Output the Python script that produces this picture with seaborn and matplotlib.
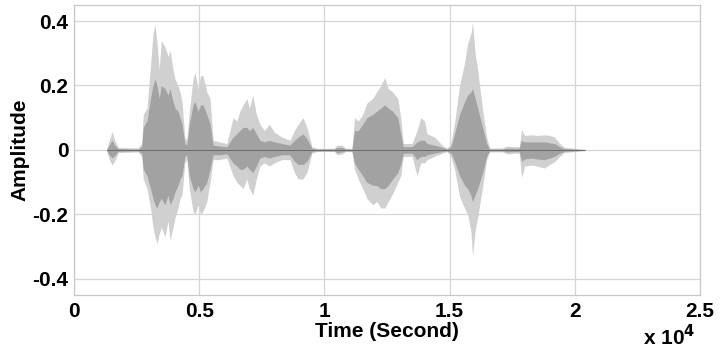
import numpy as np
import pandas as pd
import matplotlib
matplotlib.use("Agg")
import matplotlib.pyplot as plt
import seaborn as sns

# envelope of the speech waveform (sample index, amplitude)
sample_idx = [1300, 1400, 1520, 1620, 1760, 2550, 2700, 2760, 2910, 3050,
              3150, 3230, 3310, 3400, 3480, 3630, 3750, 3830, 3950, 4030,
              4150, 4230, 4310, 4420, 4500, 4600, 4750, 4830, 4950, 5050,
              5150, 5300, 5430, 5550, 5800, 6100, 6350, 6500, 6620, 6750,
              6900, 7000, 7140, 7280, 7420, 7600, 7800, 8000, 8300, 8620,
              8800, 8950, 9140, 9300, 9500, 9700, 10400, 10500, 10700, 10850,
              11100, 11200, 11350, 11530, 11690, 11930, 12090, 12250, 12410, 12550,
              12730, 12930, 13050, 13150, 13500, 13700, 13850, 14000, 14100, 14400,
              14700, 14900, 15050, 15200, 15400, 15600, 15720, 15850, 15920, 16020,
              16120, 16320, 16480, 16600, 17100, 17300, 17600, 17780, 17880, 18000,
              18270, 18500, 18790, 19000, 19190, 19400, 19590, 20000, 20400]

outer_up = [0.003, 0.03, 0.057, 0.03, 0.008, 0.006, 0.02, 0.11, 0.13, 0.26,
            0.36, 0.39, 0.33, 0.25, 0.34, 0.32, 0.29, 0.31, 0.25, 0.22,
            0.20, 0.18, 0.15, 0.04, 0.03, 0.12, 0.22, 0.24, 0.19, 0.23,
            0.23, 0.18, 0.16, 0.03, 0.025, 0.02, 0.10, 0.09, 0.12, 0.14,
            0.16, 0.13, 0.17, 0.11, 0.08, 0.06, 0.08, 0.055, 0.04, 0.03,
            0.06, 0.08, 0.10, 0.07, 0.01, 0.005, 0.005, 0.015, 0.015, 0.005,
            0.005, 0.10, 0.09, 0.11, 0.145, 0.16, 0.18, 0.20, 0.225, 0.19,
            0.18, 0.16, 0.10, 0.02, 0.02, 0.06, 0.10, 0.09, 0.05, 0.04,
            0.015, 0.005, 0.02, 0.085, 0.20, 0.27, 0.33, 0.36, 0.395, 0.30,
            0.25, 0.125, 0.04, 0.006, 0.006, 0.012, 0.01, 0.01, 0.063, 0.045,
            0.047, 0.045, 0.047, 0.045, 0.04, 0.02, 0.008, 0.005, 0.002]

outer_lo = [-0.003, -0.03, -0.047, -0.035, -0.008, -0.006, -0.02, -0.09, -0.12, -0.18,
            -0.24, -0.27, -0.29, -0.26, -0.24, -0.27, -0.22, -0.28, -0.24, -0.21,
            -0.18, -0.15, -0.14, -0.04, -0.03, -0.12, -0.19, -0.20, -0.17, -0.20,
            -0.19, -0.16, -0.10, -0.03, -0.03, -0.025, -0.08, -0.10, -0.11, -0.12,
            -0.09, -0.12, -0.14, -0.09, -0.05, -0.04, -0.05, -0.04, -0.03, -0.03,
            -0.07, -0.09, -0.09, -0.07, -0.01, -0.005, -0.005, -0.015, -0.012, -0.005,
            -0.005, -0.06, -0.09, -0.12, -0.15, -0.17, -0.16, -0.18, -0.18, -0.16,
            -0.135, -0.10, -0.08, -0.02, -0.02, -0.08, -0.04, -0.04, -0.03, -0.02,
            -0.01, -0.005, -0.02, -0.06, -0.145, -0.18, -0.20, -0.25, -0.33, -0.25,
            -0.21, -0.115, -0.03, -0.006, -0.006, -0.012, -0.01, -0.01, -0.085, -0.05,
            -0.047, -0.05, -0.056, -0.045, -0.037, -0.02, -0.008, -0.005, -0.002]

inner_up = [0.002, 0.015, 0.03, 0.015, 0.004, 0.003, 0.01, 0.07, 0.09, 0.16,
            0.2, 0.22, 0.2, 0.16, 0.2, 0.19, 0.17, 0.19, 0.15, 0.13,
            0.12, 0.1, 0.08, 0.02, 0.015, 0.08, 0.14, 0.15, 0.12, 0.14,
            0.14, 0.11, 0.08, 0.015, 0.012, 0.01, 0.04, 0.05, 0.06, 0.07,
            0.07, 0.06, 0.07, 0.05, 0.03, 0.025, 0.03, 0.025, 0.02, 0.015,
            0.03, 0.04, 0.05, 0.035, 0.005, 0.003, 0.003, 0.008, 0.008, 0.003,
            0.003, 0.06, 0.06, 0.08, 0.1, 0.11, 0.12, 0.13, 0.14, 0.13,
            0.12, 0.1, 0.05, 0.01, 0.01, 0.025, 0.03, 0.03, 0.02, 0.015,
            0.008, 0.003, 0.01, 0.05, 0.11, 0.15, 0.17, 0.18, 0.19, 0.16,
            0.13, 0.07, 0.02, 0.003, 0.003, 0.006, 0.005, 0.005, 0.03, 0.025,
            0.025, 0.025, 0.025, 0.022, 0.02, 0.01, 0.004, 0.003, 0.001]

inner_lo = [-0.002, -0.015, -0.025, -0.018, -0.004, -0.003, -0.01, -0.06, -0.08, -0.12,
            -0.15, -0.17, -0.18, -0.16, -0.15, -0.17, -0.14, -0.17, -0.15, -0.13,
            -0.11, -0.09, -0.08, -0.02, -0.015, -0.08, -0.12, -0.13, -0.11, -0.13,
            -0.12, -0.1, -0.06, -0.015, -0.015, -0.012, -0.04, -0.05, -0.06, -0.06,
            -0.05, -0.06, -0.07, -0.05, -0.025, -0.02, -0.025, -0.02, -0.015, -0.015,
            -0.035, -0.045, -0.045, -0.035, -0.005, -0.003, -0.003, -0.008, -0.006, -0.003,
            -0.003, -0.04, -0.06, -0.08, -0.1, -0.11, -0.11, -0.12, -0.12, -0.11,
            -0.09, -0.07, -0.045, -0.01, -0.01, -0.03, -0.02, -0.02, -0.015, -0.01,
            -0.005, -0.003, -0.01, -0.035, -0.08, -0.11, -0.12, -0.14, -0.16, -0.14,
            -0.12, -0.07, -0.02, -0.003, -0.003, -0.006, -0.005, -0.005, -0.035, -0.028,
            -0.025, -0.028, -0.03, -0.025, -0.02, -0.01, -0.004, -0.003, -0.001]

x_ticks = [0, 5000, 10000, 15000, 20000, 25000]
x_ticklabels = ["0", "0.5", "1", "1.5", "2", "2.5"]
y_ticks = [-0.4, -0.2, 0, 0.2, 0.4]
y_ticklabels = ["-0.4", "-0.2", "0", "0.2", "0.4"]

df = pd.DataFrame({"sample": sample_idx, "up": outer_up, "lo": outer_lo,
                   "iup": inner_up, "ilo": inner_lo})

sns.set_theme(style="whitegrid")
plt.rcParams["font.family"] = ["Liberation Sans", "DejaVu Sans"]
plt.rcParams["text.color"] = "black"
plt.rcParams["axes.labelcolor"] = "black"
plt.rcParams["xtick.color"] = "black"
plt.rcParams["ytick.color"] = "black"

fig = plt.figure(figsize=(7.2, 3.52), dpi=100)
ax = fig.add_axes([0.103, 0.162, 0.869, 0.824])

ax.fill_between(df["sample"], df["lo"], df["up"], color="#d0d0d0", lw=0, zorder=2)
ax.fill_between(df["sample"], df["ilo"], df["iup"], color="#a2a2a2", lw=0, zorder=3)
# thin trace through the middle of the signal
sns.lineplot(x=[df["sample"].iloc[0], df["sample"].iloc[-1]], y=[0, 0],
             color="#6a6a6a", lw=0.7, ax=ax, zorder=4)

ax.set_xlim(0, 25000)
ax.set_ylim(-0.45, 0.45)
ax.set_xticks(x_ticks)
ax.set_xticklabels(x_ticklabels)
ax.set_yticks(y_ticks)
ax.set_yticklabels(y_ticklabels)
ax.tick_params(labelsize=15, length=0, labelcolor="black")
ax.tick_params(axis="x", pad=5)
ax.tick_params(axis="y", pad=4)
for lab in ax.get_xticklabels() + ax.get_yticklabels():
    lab.set_fontweight("bold")

ax.grid(True, color="#d6d6d6", lw=0.9)
for sp in ax.spines.values():
    sp.set_color("#c8c8c8")
    sp.set_linewidth(0.9)

ax.set_xlabel("Time (Second)", fontsize=15, fontweight="bold", labelpad=1, color="black")
ax.set_ylabel("Amplitude", fontsize=15, fontweight="bold", labelpad=2, color="black")
fig.text(0.893, 0.018, r"x 10$^{\mathbf{4}}$", fontsize=15, fontweight="bold", color="black")

fig.savefig("out.png", dpi=100, facecolor="white")
